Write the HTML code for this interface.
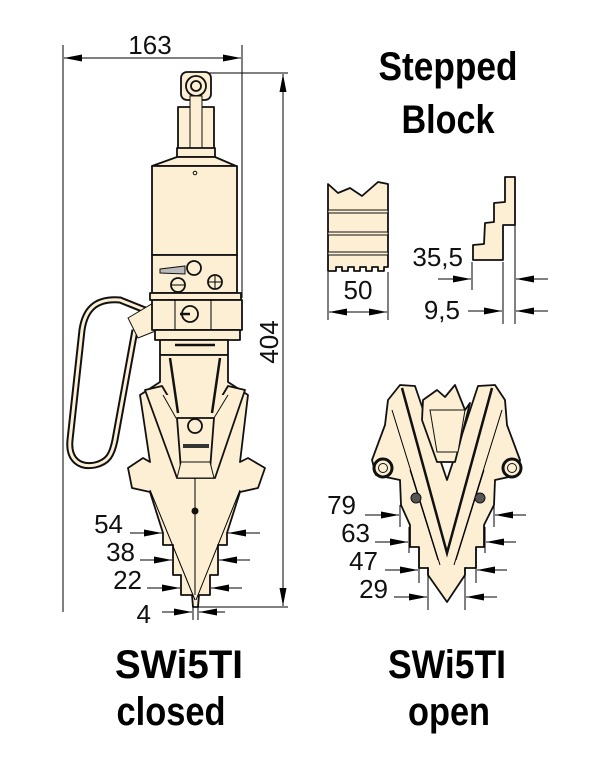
<!DOCTYPE html>
<html><head><meta charset="utf-8"><style>
html,body{margin:0;padding:0;background:#fff;}
svg{display:block;}
.t{font-family:"Liberation Sans",sans-serif;font-size:26px;fill:#111;}
.b{font-family:"Liberation Sans Narrow","Liberation Sans",sans-serif;font-weight:bold;font-size:40px;fill:#000;}
.f{fill:#fcefd4;stroke:#111;stroke-width:1.8;stroke-linejoin:round;}
.fs{fill:#fcefd4;stroke:#111;stroke-width:1;}
.l{stroke:#000;stroke-width:1;fill:none;}
.k{stroke:#111;stroke-width:2.5;fill:none;}
.ar{fill:#000;stroke:none;}
</style></head><body>
<svg width="605" height="761" viewBox="0 0 605 761" xmlns="http://www.w3.org/2000/svg">

<!-- 163 dimension -->
<line class="l" x1="63" y1="45" x2="63" y2="612"/>
<line class="l" x1="242" y1="45" x2="242" y2="298"/>
<line class="l" x1="64" y1="58" x2="241" y2="58"/>
<path class="ar" d="M82,54.5L64,58L82,61.5Z M223,54.5L241,58L223,61.5Z"/>
<text class="t" x="150" y="54" text-anchor="middle">163</text>

<!-- 404 dimension -->
<line class="l" x1="205" y1="73" x2="288" y2="73"/>
<line class="l" x1="196" y1="607" x2="288" y2="607"/>
<line class="l" x1="283" y1="74" x2="283" y2="606"/>
<path class="ar" d="M279.5,92L283,74L286.5,92Z M279.5,588L283,606L286.5,588Z"/>
<text class="t" transform="translate(278,342) rotate(-90)" text-anchor="middle">404</text>

<!-- handle -->
<path d="M150,312 L120,300 C95,298 85,310 82,330 L70,440 C68,460 80,468 95,465 C108,462 112,455 115,440 L135,330" fill="none" stroke="#111" stroke-width="7"/>
<path d="M150,312 L120,300 C95,298 85,310 82,330 L70,440 C68,460 80,468 95,465 C108,462 112,455 115,440 L135,330" fill="none" stroke="#fcefd4" stroke-width="3"/>
<path class="fs" d="M128,318 L155,302 L158,330 L138,338 Z"/>

<!-- top knob -->
<rect class="f" x="181" y="72" width="30" height="28" rx="6"/>
<circle cx="196" cy="86" r="10" class="f"/>
<circle cx="196" cy="86" r="5" class="f"/>
<rect class="f" x="178" y="107" width="36" height="43"/>
<rect class="fs" x="190" y="96" width="12" height="58"/>
<rect class="f" x="177" y="148" width="38" height="9"/>
<path class="f" d="M177,157 L215,157 L236,166 L152,166 Z"/>
<rect class="f" x="152" y="166" width="85" height="89"/>
<circle cx="195" cy="173" r="1.8" fill="none" stroke="#111"/>
<rect class="f" x="152" y="255" width="85" height="38"/>
<path d="M160,269 L185,266 L185,274 L160,273 Z" fill="#bbb" stroke="#111"/>
<circle cx="194" cy="268" r="7" class="f"/>
<circle cx="178" cy="285" r="7" class="f"/><line class="l" x1="172" y1="285" x2="184" y2="285"/>
<circle cx="215" cy="282" r="7" class="f"/><line class="l" x1="209" y1="282" x2="221" y2="282"/><line class="l" x1="215" y1="276" x2="215" y2="288"/>
<rect class="f" x="150" y="293" width="91" height="7"/>
<rect class="f" x="152" y="300" width="90" height="30"/>
<line class="l" x1="175" y1="300" x2="175" y2="330"/><line class="l" x1="211" y1="300" x2="211" y2="330"/>
<circle cx="190" cy="314" r="8" class="f"/><line class="k" x1="180" y1="314" x2="190" y2="314"/>
<rect class="f" x="155" y="330" width="85" height="10"/>
<rect class="f" x="160" y="340" width="68" height="15"/>
<line class="k" x1="175" y1="345" x2="215" y2="345"/>

<!-- closed jaws -->
<path class="f" d="M128,468 L143,458 L150,462 L140,395 L160,382 L160,355 L228,355 L228,382 L248,395 L240,462 L248,458 L265,468 L258,488 L240,492 L227,533 L227,545 L218,545 L218,575 L210,575 L210,595 L199,595 L198,607 L193,607 L192,595 L181,595 L181,575 L173,575 L173,545 L163,545 L163,533 L150,492 L132,488 Z"/>
<path class="f" d="M145,390 L162,386 L178,413 L212,413 L228,386 L245,390 L215,478 L177,478 Z"/>
<path class="fs" d="M163,395 L176,418 L214,418 L228,395"/>
<path class="f" d="M177,418 L214,418 L210,470 L181,470 Z"/>
<path class="fs" d="M181,462 L210,462 L214,478 L177,478 Z"/>
<circle cx="195" cy="426" r="7" class="f"/>
<rect x="183" y="444" width="26" height="4" fill="#333"/>
<line class="k" x1="170" y1="358" x2="178" y2="413" /><line class="k" x1="220" y1="358" x2="212" y2="413"/>
<line class="l" x1="150" y1="490" x2="195" y2="600"/><line class="l" x1="240" y1="490" x2="196" y2="600"/>
<line class="l" x1="195" y1="478" x2="195" y2="595"/>
<circle cx="195" cy="511" r="3.5" fill="#111"/>

<!-- closed dims -->
<text class="t" x="123" y="533" text-anchor="end">54</text>
<text class="t" x="135" y="561" text-anchor="end">38</text>
<text class="t" x="142" y="589" text-anchor="end">22</text>
<text class="t" x="151" y="623" text-anchor="end">4</text>
<line class="l" x1="130" y1="533" x2="162" y2="533"/><line class="l" x1="260" y1="533" x2="228" y2="533"/>
<line class="l" x1="140" y1="560" x2="172" y2="560"/><line class="l" x1="250" y1="560" x2="219" y2="560"/>
<line class="l" x1="147" y1="588" x2="180" y2="588"/><line class="l" x1="242" y1="588" x2="211" y2="588"/>
<line class="l" x1="162" y1="612" x2="192" y2="612"/><line class="l" x1="225" y1="612" x2="199" y2="612"/>
<path class="ar" d="M144,529.5L162,533L144,536.5Z M246,529.5L228,533L246,536.5Z
M154,556.5L172,560L154,563.5Z M237,556.5L219,560L237,563.5Z
M162,584.5L180,588L162,591.5Z M229,584.5L211,588L229,591.5Z
M174,608.5L192,612L174,615.5Z M217,608.5L199,612L217,615.5Z"/>
<line class="l" x1="193" y1="606" x2="193" y2="620"/><line class="l" x1="198" y1="606" x2="198" y2="620"/>

<!-- Stepped block -->
<text class="b" x="448" y="80" text-anchor="middle" textLength="139" lengthAdjust="spacingAndGlyphs">Stepped</text>
<text class="b" x="448" y="133" text-anchor="middle" textLength="93" lengthAdjust="spacingAndGlyphs">Block</text>
<path class="f" d="M328,184 L338,193 L350,188 L362,196 L378,182 L388,184 L388,267 L384,267 L384,271 L378,271 L378,267 L372,267 L372,271 L366,271 L366,267 L360,267 L360,271 L354,271 L354,267 L348,267 L348,271 L342,271 L342,267 L336,267 L336,271 L328,271 Z"/>
<rect x="328" y="210" width="60" height="3" fill="#fcefd4" stroke="#111" stroke-width="1"/>
<rect x="328" y="232" width="60" height="3" fill="#fcefd4" stroke="#111" stroke-width="1"/>
<rect x="328" y="252" width="60" height="3" fill="#fcefd4" stroke="#111" stroke-width="1"/>
<line class="l" x1="328" y1="272" x2="328" y2="320"/><line class="l" x1="388" y1="272" x2="388" y2="320"/>
<line class="l" x1="329" y1="312" x2="387" y2="312"/>
<path class="ar" d="M347,308.5L329,312L347,315.5Z M369,308.5L387,312L369,315.5Z"/>
<text class="t" x="358" y="299" text-anchor="middle">50</text>

<path class="f" d="M505,177 L515,177 L515,225 L503,225 L503,260 L473,260 L473,245 L484,244 L485,223 L494,222 L494,203 L505,202 Z"/>
<line class="l" x1="472" y1="262" x2="472" y2="290"/>
<line class="l" x1="503" y1="262" x2="503" y2="324"/>
<line class="l" x1="515" y1="225" x2="515" y2="324"/>
<line class="l" x1="438" y1="279" x2="471" y2="279"/><line class="l" x1="548" y1="279" x2="516" y2="279"/>
<line class="l" x1="468" y1="311" x2="502" y2="311"/><line class="l" x1="548" y1="311" x2="516" y2="311"/>
<path class="ar" d="M453,275.5L471,279L453,282.5Z M534,275.5L516,279L534,282.5Z
M484,307.5L502,311L484,314.5Z M534,307.5L516,311L534,314.5Z"/>
<text class="t" x="463" y="266" text-anchor="end">35,5</text>
<text class="t" x="460" y="319" text-anchor="end">9,5</text>

<!-- open jaws -->
<path class="f" d="M400,385 L415,386 L447,480 L478,386 L495,385 L505,400 L507,425 L520,460 L518,475 L495,480 L494,505 L484,525 L484,547 L476,547 L476,568 L465,568 L465,575 L447,602 L428,575 L428,568 L419,568 L419,547 L410,547 L410,525 L401,505 L400,480 L376,475 L372,460 L385,425 L388,400 Z"/>
<path class="f" d="M423,400 L437,390 L445,397 L455,385 L465,410 L470,403 L455,462 L437,462 L422,420 Z"/>
<path class="fs" d="M430,410 L465,410 L458,452 L437,452 Z"/>
<path class="k" d="M402,388 L447,553 L492,388"/>
<path class="l" d="M392,410 L440,565 M502,410 L454,565"/>
<path class="l" d="M410,470 L438,560 M484,470 L456,560"/>
<circle cx="383" cy="468" r="9" fill="#fcefd4" stroke="#111" stroke-width="3"/><circle cx="383" cy="468" r="4.5" class="fs"/>
<circle cx="512" cy="468" r="9" fill="#fcefd4" stroke="#111" stroke-width="3"/><circle cx="512" cy="468" r="4.5" class="fs"/>
<circle cx="416" cy="498" r="5" fill="#555" stroke="#111"/><circle cx="480" cy="498" r="5" fill="#555" stroke="#111"/>

<!-- open dims -->
<line class="l" x1="400" y1="505" x2="400" y2="527"/><line class="l" x1="494" y1="505" x2="494" y2="527"/>
<line class="l" x1="409" y1="527" x2="409" y2="553"/><line class="l" x1="485" y1="527" x2="485" y2="553"/>
<line class="l" x1="419" y1="547" x2="419" y2="583"/><line class="l" x1="476" y1="547" x2="476" y2="583"/>
<line class="l" x1="428" y1="567" x2="428" y2="610"/><line class="l" x1="465" y1="567" x2="465" y2="610"/>
<text class="t" x="356" y="514" text-anchor="end">79</text>
<text class="t" x="370" y="542" text-anchor="end">63</text>
<text class="t" x="378" y="570" text-anchor="end">47</text>
<text class="t" x="388" y="598" text-anchor="end">29</text>
<line class="l" x1="365" y1="515" x2="399" y2="515"/><line class="l" x1="526" y1="515" x2="495" y2="515"/>
<line class="l" x1="375" y1="542" x2="408" y2="542"/><line class="l" x1="516" y1="542" x2="486" y2="542"/>
<line class="l" x1="385" y1="570" x2="418" y2="570"/><line class="l" x1="507" y1="570" x2="477" y2="570"/>
<line class="l" x1="394" y1="597" x2="427" y2="597"/><line class="l" x1="497" y1="597" x2="466" y2="597"/>
<path class="ar" d="M381,511.5L399,515L381,518.5Z M513,511.5L495,515L513,518.5Z
M390,538.5L408,542L390,545.5Z M504,538.5L486,542L504,545.5Z
M400,566.5L418,570L400,573.5Z M495,566.5L477,570L495,573.5Z
M409,593.5L427,597L409,600.5Z M484,593.5L466,597L484,600.5Z"/>

<!-- captions -->
<text class="b" x="179" y="678" text-anchor="middle" textLength="128" lengthAdjust="spacingAndGlyphs">SWi5TI</text>
<text class="b" x="171" y="725" text-anchor="middle" textLength="109" lengthAdjust="spacingAndGlyphs">closed</text>
<text class="b" x="447" y="678" text-anchor="middle" textLength="118" lengthAdjust="spacingAndGlyphs">SWi5TI</text>
<text class="b" x="449" y="725" text-anchor="middle" textLength="82" lengthAdjust="spacingAndGlyphs">open</text>
</svg>
</body></html>
